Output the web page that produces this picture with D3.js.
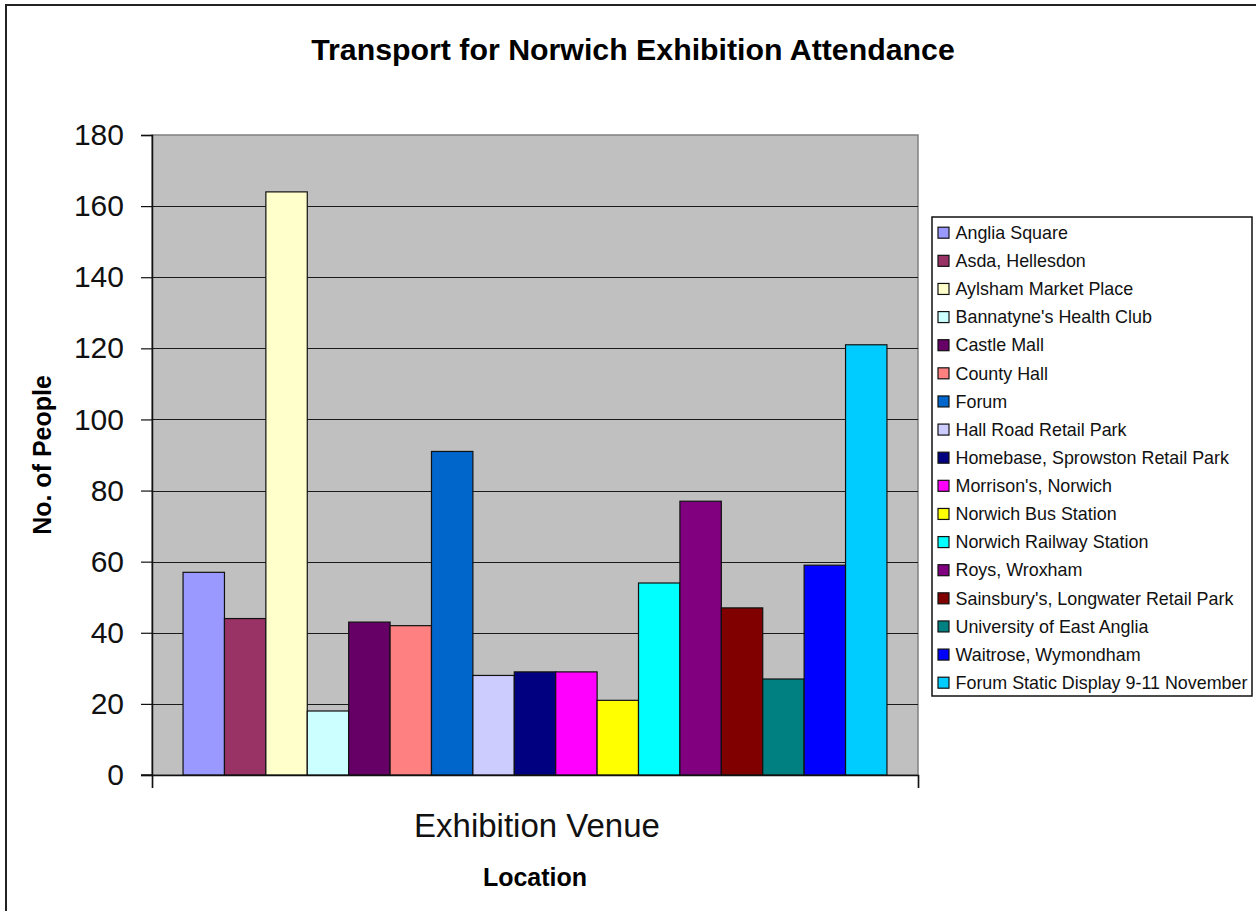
<!DOCTYPE html>
<html><head><meta charset="utf-8">
<script src="https://cdn.jsdelivr.net/npm/d3@7/dist/d3.min.js"></script>
<style>
html,body{margin:0;padding:0;background:#fff;}
svg{display:block;font-family:"Liberation Sans",Arial,sans-serif;}
</style></head>
<body>
<svg id="chart" width="1256" height="911"></svg>
<script>
const title = "Transport for Norwich Exhibition Attendance";
const categories = ["Exhibition Venue"];
const seriesNames = ["Anglia Square","Asda, Hellesdon","Aylsham Market Place","Bannatyne's Health Club","Castle Mall","County Hall","Forum","Hall Road Retail Park","Homebase, Sprowston Retail Park","Morrison's, Norwich","Norwich Bus Station","Norwich Railway Station","Roys, Wroxham","Sainsbury's, Longwater Retail Park","University of East Anglia","Waitrose, Wymondham","Forum Static Display 9-11 November"];
const seriesValues = [57, 44, 164, 18, 43, 42, 91, 28, 29, 29, 21, 54, 77, 47, 27, 59, 121];
const seriesColors = ["#9999FF","#993366","#FFFFCC","#CCFFFF","#660066","#FF8080","#0066CC","#CCCCFF","#000080","#FF00FF","#FFFF00","#00FFFF","#800080","#800000","#008080","#0000FF","#00CCFF"];
const yTicks = [0,20,40,60,80,100,120,140,160,180];
const yLabel = "No. of People";
const xLabel = "Location";

const svg = d3.select("#chart");
const P = {left:152, right:918, top:135, bottom:775};

// outer chart border
svg.append("rect").attr("x",6).attr("y",5).attr("width",1270).attr("height",930)
  .attr("fill","#fff").attr("stroke","#222").attr("stroke-width",2);

const y = d3.scaleLinear().domain([0,180]).range([P.bottom,P.top]);
const x0 = d3.scaleBand().domain(categories).range([P.left,P.right]).padding(0);
const x1 = d3.scaleBand().domain(seriesNames).range([0,x0.bandwidth()]).paddingInner(0).paddingOuter(0.75);

// plot area
svg.append("rect").attr("x",P.left).attr("y",P.top).attr("width",P.right-P.left).attr("height",P.bottom-P.top)
  .attr("fill","#C0C0C0").attr("stroke","#808080").attr("stroke-width",1.5);

// gridlines
svg.append("g").selectAll("line").data(yTicks.filter(d=>d>0 && d<180)).join("line")
  .attr("x1",P.left).attr("x2",P.right).attr("y1",d=>Math.round(y(d))+0.5).attr("y2",d=>Math.round(y(d))+0.5)
  .attr("stroke","#1a1a1a").attr("stroke-width",1.2);

// bars
const g = svg.append("g").selectAll("g").data(categories).join("g")
  .attr("transform",d=>`translate(${x0(d)},0)`);
g.selectAll("rect").data(seriesNames.map((n,i)=>({n,v:seriesValues[i],c:seriesColors[i]}))).join("rect")
  .attr("x",d=>x1(d.n)).attr("width",x1.bandwidth())
  .attr("y",d=>y(d.v)).attr("height",d=>y(0)-y(d.v))
  .attr("fill",d=>d.c).attr("stroke","#111").attr("stroke-width",1.2);

// y axis
const yAxis = d3.axisLeft(y).tickValues(yTicks).tickSize(11).tickPadding(17);
const ya = svg.append("g").attr("transform",`translate(${P.left},0)`).call(yAxis);
ya.select(".domain").attr("stroke","#111").attr("stroke-width",1.5);
ya.selectAll(".tick line").attr("stroke","#111").attr("stroke-width",1.2);
ya.selectAll("text").attr("font-size",30).attr("fill","#111").attr("font-family","Liberation Sans, Arial, sans-serif");

// x axis
const xAxis = d3.axisBottom(d3.scaleLinear().domain([0,1]).range([P.left,P.right])).tickValues([0,1]).tickSize(13).tickFormat("");
const xa = svg.append("g").attr("transform",`translate(0,${P.bottom})`).call(xAxis);
xa.select(".domain").attr("stroke","#111").attr("stroke-width",1.5);
xa.selectAll(".tick line").attr("stroke","#111").attr("stroke-width",1.2);
svg.append("line").attr("x1",141).attr("x2",P.left).attr("y1",P.bottom).attr("y2",P.bottom).attr("stroke","#111").attr("stroke-width",1.5);

// category label
svg.append("g").selectAll("text").data(categories).join("text")
  .attr("x",d=>x0(d)+x0.bandwidth()/2+2).attr("y",837).attr("text-anchor","middle")
  .attr("font-size",33).attr("fill","#111").text(d=>d);

// titles
svg.append("text").attr("x",633).attr("y",60).attr("text-anchor","middle")
  .attr("font-size",30.3).attr("font-weight","bold").attr("fill","#000").text(title);
svg.append("text").attr("x",(P.left+P.right)/2).attr("y",886).attr("text-anchor","middle")
  .attr("font-size",25).attr("font-weight","bold").attr("fill","#000").text(xLabel);
svg.append("text").attr("transform",`translate(51,${(P.top+P.bottom)/2}) rotate(-90)`).attr("text-anchor","middle")
  .attr("font-size",25).attr("font-weight","bold").attr("fill","#000").text(yLabel);

// legend
const L = {x:932, y:217, w:320, h:479};
svg.append("rect").attr("x",L.x).attr("y",L.y).attr("width",L.w).attr("height",L.h)
  .attr("fill","#fff").attr("stroke","#111").attr("stroke-width",1.5);
const ly = d3.scalePoint().domain(seriesNames).range([232.7,682.7]);
const li = svg.append("g").selectAll("g").data(seriesNames).join("g")
  .attr("transform",d=>`translate(0,${ly(d)})`);
li.append("rect").attr("x",938).attr("y",-5.5).attr("width",11).attr("height",11)
  .attr("fill",(d,i)=>seriesColors[i]).attr("stroke","#111").attr("stroke-width",1.2);
li.append("text").attr("x",955.5).attr("y",0).attr("dy","0.35em")
  .attr("font-size",17.9).attr("fill","#111").text(d=>d);
</script>
</body></html>
